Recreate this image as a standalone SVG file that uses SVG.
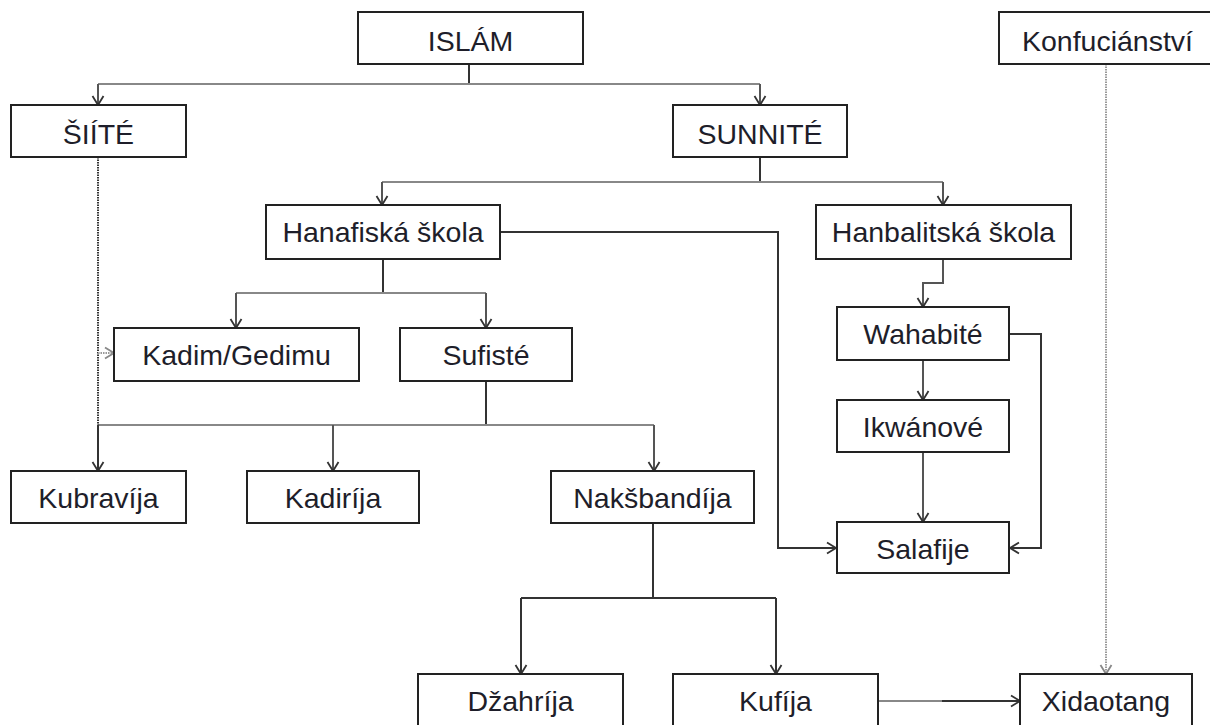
<svg xmlns="http://www.w3.org/2000/svg" width="1210" height="725" viewBox="0 0 1210 725">
<defs>
<style>
.box{fill:#fff;stroke:#222;stroke-width:2}
.lbl{font-family:"Liberation Sans",Arial,sans-serif;font-size:28.5px;fill:#1e1e2a;text-anchor:middle}
.c{fill:none;stroke:#555;stroke-width:2}
.g{fill:none;stroke:#888;stroke-width:2}
.s{fill:none;stroke:#333;stroke-width:2}
.d{fill:none;stroke:#333;stroke-width:2;stroke-dasharray:1.5 1}
.dg{fill:none;stroke:#999;stroke-width:2;stroke-dasharray:1.5 1}
</style>
<marker id="a" markerWidth="14" markerHeight="14" refX="10" refY="7" orient="auto" markerUnits="userSpaceOnUse">
<path d="M1,1.5 L10,7 L1,12.5" fill="none" stroke="#333" stroke-width="1.8"/>
</marker>
<marker id="ag" markerWidth="14" markerHeight="14" refX="10" refY="7" orient="auto" markerUnits="userSpaceOnUse">
<path d="M1,1.5 L10,7 L1,12.5" fill="none" stroke="#888" stroke-width="1.8"/>
</marker>
</defs>
<rect width="1210" height="725" fill="#fff"/>
<g id="connectors">
<path class="s" d="M469,64 V84"/>
<path class="g" d="M98,84 H760"/>
<path class="c" d="M98,84 V105" marker-end="url(#a)"/>
<path class="c" d="M760,84 V105" marker-end="url(#a)"/>
<path class="s" d="M760,157 V182"/>
<path class="g" d="M382,182 H943"/>
<path class="c" d="M382,182 V205" marker-end="url(#a)"/>
<path class="c" d="M943,182 V205" marker-end="url(#a)"/>
<path class="s" d="M383,259 V293"/>
<path class="g" d="M236,293 H486"/>
<path class="c" d="M236,293 V328" marker-end="url(#a)"/>
<path class="c" d="M486,293 V328" marker-end="url(#a)"/>
<path class="s" d="M486,381 V425"/>
<path class="g" d="M98,425 H654"/>
<path class="s" d="M98,425 V471" marker-end="url(#a)"/>
<path class="c" d="M333,425 V471" marker-end="url(#a)"/>
<path class="c" d="M654,425 V471" marker-end="url(#a)"/>
<path class="d" d="M98,157 V425"/>
<path class="dg" d="M98,353 H114" marker-end="url(#ag)"/>
<path class="s" d="M653,523 V598"/>
<path class="s" d="M521,598 H776"/>
<path class="s" d="M521,598 V674" marker-end="url(#a)"/>
<path class="s" d="M776,598 V674" marker-end="url(#a)"/>
<path class="s" d="M500,232 H778 V548 H836" marker-end="url(#a)"/>
<path class="c" d="M943,259 V283 H923 V307" marker-end="url(#a)"/>
<path class="c" d="M923,360 V400" marker-end="url(#a)"/>
<path class="c" d="M923,452 V522" marker-end="url(#a)"/>
<path class="s" d="M1009,334 H1041 V548 H1010" marker-end="url(#a)"/>
<path class="dg" d="M1106,64 V674" marker-end="url(#ag)"/>
<path class="g" d="M878,701 H943"/>
<path class="s" d="M942,701 H1020" marker-end="url(#a)"/>
</g>
<g id="islam"><rect class="box" x="358" y="12" width="225" height="52"/><text class="lbl" x="470.5" y="51">ISLÁM</text></g>
<g id="konfucianstvi"><rect class="box" x="999" y="12" width="220" height="52"/><text class="lbl" x="1107.5" y="51">Konfuciánství</text></g>
<g id="siite"><rect class="box" x="11" y="105" width="175" height="52"/><text class="lbl" x="98.5" y="144">ŠIÍTÉ</text></g>
<g id="sunnite"><rect class="box" x="673" y="105" width="174" height="52"/><text class="lbl" x="760" y="144">SUNNITÉ</text></g>
<g id="hanafiska"><rect class="box" x="266" y="205" width="234" height="54"/><text class="lbl" x="383" y="242">Hanafiská škola</text></g>
<g id="hanbalitska"><rect class="box" x="816" y="205" width="255" height="54"/><text class="lbl" x="943.5" y="242">Hanbalitská škola</text></g>
<g id="wahabite"><rect class="box" x="837" y="307" width="172" height="53"/><text class="lbl" x="923" y="344">Wahabité</text></g>
<g id="kadim"><rect class="box" x="114" y="328" width="245" height="53"/><text class="lbl" x="236.5" y="365">Kadim/Gedimu</text></g>
<g id="sufiste"><rect class="box" x="400" y="328" width="172" height="53"/><text class="lbl" x="486" y="365">Sufisté</text></g>
<g id="ikwanove"><rect class="box" x="837" y="400" width="172" height="52"/><text class="lbl" x="923" y="437">Ikwánové</text></g>
<g id="kubravija"><rect class="box" x="11" y="471" width="175" height="52"/><text class="lbl" x="98.5" y="508">Kubravíja</text></g>
<g id="kadirija"><rect class="box" x="247" y="471" width="172" height="52"/><text class="lbl" x="333" y="508">Kadiríja</text></g>
<g id="naksbandija"><rect class="box" x="551" y="471" width="203" height="52"/><text class="lbl" x="652.5" y="508">Nakšbandíja</text></g>
<g id="salafije"><rect class="box" x="837" y="522" width="172" height="51"/><text class="lbl" x="923" y="559">Salafije</text></g>
<g id="dzahrija"><rect class="box" x="418" y="674" width="205" height="56"/><text class="lbl" x="520.5" y="711">Džahríja</text></g>
<g id="kufija"><rect class="box" x="673" y="674" width="205" height="56"/><text class="lbl" x="775.5" y="711">Kufíja</text></g>
<g id="xidaotang"><rect class="box" x="1020" y="674" width="172" height="56"/><text class="lbl" x="1106" y="711">Xidaotang</text></g>
</svg>
